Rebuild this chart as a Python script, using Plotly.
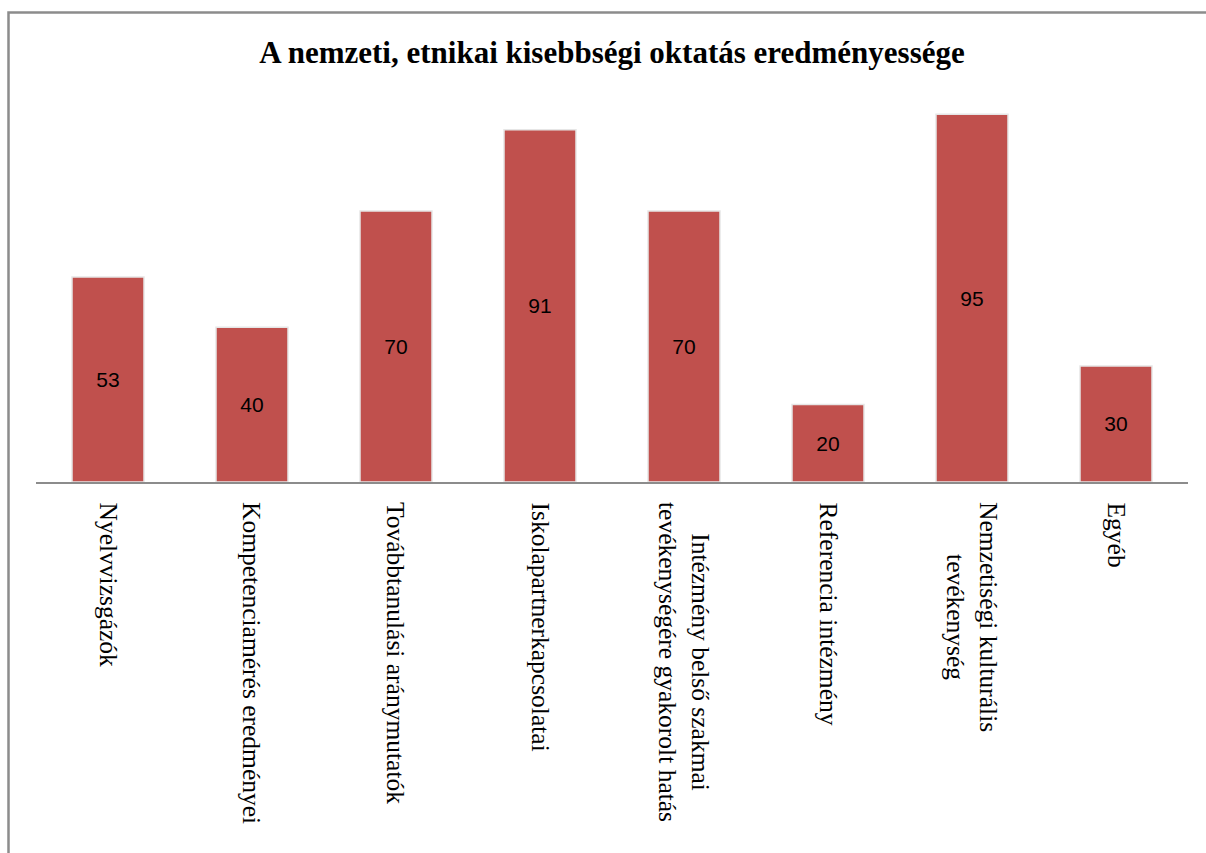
import plotly.graph_objects as go

categories = [
    "Nyelvvizsgázók",
    "Kompetenciamérés eredményei",
    "Továbbtanulási aránymutatók",
    "Iskolapartnerkapcsolatai",
    "Intézmény belső szakmai<br>tevékenységére gyakorolt hatás",
    "Referencia intézmény",
    "Nemzetiségi kulturális<br>tevékenység",
    "Egyéb",
]
values = [53, 40, 70, 91, 70, 20, 95, 30]
title_text = "A nemzeti, etnikai kisebbségi oktatás eredményessége"

W, H = 1206, 853
L, R, T, B = 36, 18, 95, 371
pw, ph = W - L - R, H - T - B

def px_x(px):
    return (px - L) / pw

def px_y(py):
    return (H - B - py) / ph

fig = go.Figure(
    go.Bar(
        x=categories,
        y=values,
        marker=dict(color="#C0504D", line=dict(color="#e6e6e6", width=1.5)),
        text=[str(v) for v in values],
        textposition="inside",
        insidetextanchor="middle",
        textfont=dict(family="Liberation Sans, Arial", size=21, color="#000000"),
        textangle=0,
        width=0.5,
    )
)

annotations = [
    dict(
        x=c,
        xref="x",
        y=px_y(500),
        yref="paper",
        text=c,
        showarrow=False,
        textangle=90,
        align="center",
        xanchor="center",
        yanchor="top",
        font=dict(family="Liberation Serif, Times New Roman", size=25.5, color="#000000"),
    )
    for c in categories
]

fig.update_layout(
    width=W,
    height=H,
    margin=dict(l=L, r=R, t=T, b=B, autoexpand=False),
    paper_bgcolor="white",
    plot_bgcolor="white",
    showlegend=False,
    title=dict(
        text="<b>" + title_text + "</b>",
        x=0.5,
        xref="paper",
        xanchor="center",
        y=1 - 52 / H,
        yref="container",
        yanchor="middle",
        font=dict(family="Liberation Serif, Times New Roman", size=31, color="#000000"),
    ),
    xaxis=dict(
        showline=True,
        linecolor="#8c8c8c",
        linewidth=1.5,
        ticks="",
        showticklabels=False,
        showgrid=False,
    ),
    yaxis=dict(
        range=[0, 100],
        visible=False,
        showgrid=False,
        zeroline=False,
    ),
    annotations=annotations,
    shapes=[
        dict(
            type="path",
            xref="paper",
            yref="paper",
            path=f"M {px_x(8.5)} {px_y(900)} L {px_x(8.5)} {px_y(12.5)} L {px_x(1250)} {px_y(12.5)}",
            line=dict(color="#8c8c8c", width=2.5),
        )
    ],
)

fig.write_html("out.html")
